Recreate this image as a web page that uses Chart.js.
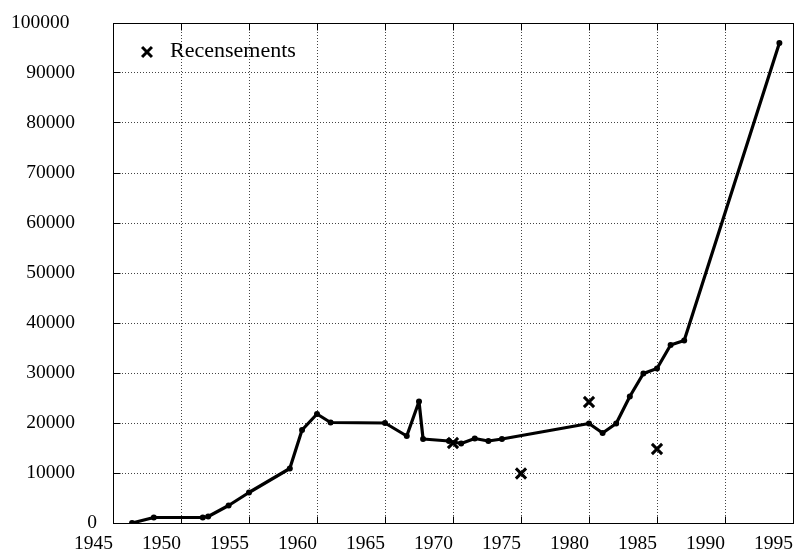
<!DOCTYPE html>
<html><head><meta charset="utf-8">
<script src="https://cdn.jsdelivr.net/npm/chart.js@4.4.1/dist/chart.umd.min.js"></script>
<style>html,body{margin:0;padding:0;background:#fff;}canvas{display:block;}</style>
</head><body>
<canvas id="c" width="794" height="552"></canvas>
<script>
// ---- data ----
const years = [1946.4, 1948.0, 1951.6, 1952.0, 1953.5, 1955.0, 1958.0, 1958.9, 1960.0, 1961.0,
               1965.0, 1966.6, 1967.5, 1967.8, 1969.7, 1970.6, 1971.6, 1972.6, 1973.6,
               1980.0, 1981.0, 1982.0, 1983.0, 1984.0, 1985.0, 1986.0, 1987.0, 1994.0];
const population = [0, 1100, 1100, 1300, 3500, 6100, 10900, 18600, 21800, 20100,
                    20000, 17400, 24300, 16800, 16400, 15900, 16900, 16400, 16800,
                    19900, 18000, 19900, 25300, 29900, 30900, 35600, 36500, 96000];
const censusYears = [1970, 1975, 1980, 1985];
const censusValues = [16000, 9900, 24200, 14800];
const censusLabel = 'Recensements';
const xTickValues = [1945, 1950, 1955, 1960, 1965, 1970, 1975, 1980, 1985, 1990, 1995];
const yTickValues = [0, 10000, 20000, 30000, 40000, 50000, 60000, 70000, 80000, 90000, 100000];

const FONT = 'Liberation Serif';

const framePlugin = {
  id: 'frame',
  beforeDatasetsDraw(chart) {
    const {ctx, chartArea: a, scales: {x, y}} = chart;
    const L = Math.floor(a.left) + 0.5, R = Math.floor(a.right) + 0.5;
    const T = Math.floor(a.top) + 0.5, B = Math.floor(a.bottom) + 0.5;
    const tl = 7;
    ctx.save();
    ctx.strokeStyle = '#000';
    ctx.lineWidth = 1;
    ctx.setLineDash([]);
    ctx.beginPath();
    xTickValues.forEach(v => {
      const px = Math.floor(x.getPixelForValue(v)) + 0.5;
      ctx.moveTo(px, B); ctx.lineTo(px, B - tl);
      ctx.moveTo(px, T); ctx.lineTo(px, T + tl);
    });
    yTickValues.forEach(v => {
      const py = Math.floor(y.getPixelForValue(v)) + 0.5;
      ctx.moveTo(L, py); ctx.lineTo(L + tl, py);
      ctx.moveTo(R, py); ctx.lineTo(R - tl, py);
    });
    ctx.stroke();
    ctx.strokeRect(L, T, R - L, B - T);
    ctx.restore();
  },
  afterDatasetsDraw(chart) {
    // legend for the census series, inside the plot at top-left
    const {ctx, chartArea: a} = chart;
    const ds = chart.data.datasets[1];
    const cx = a.left + 34, cy = a.top + 29;
    ctx.save();
    ctx.strokeStyle = ds.borderColor;
    ctx.fillStyle = ds.borderColor;
    ctx.lineWidth = ds.pointBorderWidth;
    ctx.setLineDash([]);
    if (Chart.helpers && Chart.helpers.drawPoint) {
      Chart.helpers.drawPoint(ctx, {pointStyle: ds.pointStyle, radius: 7, borderWidth: ds.pointBorderWidth, rotation: 0}, cx, cy);
    } else {
      const d = 5;
      ctx.beginPath();
      ctx.moveTo(cx - d, cy - d); ctx.lineTo(cx + d, cy + d);
      ctx.moveTo(cx + d, cy - d); ctx.lineTo(cx - d, cy + d);
      ctx.stroke();
    }
    ctx.font = '22px "' + FONT + '"';
    ctx.textAlign = 'left';
    ctx.textBaseline = 'middle';
    ctx.fillStyle = '#000';
    ctx.fillText(ds.label, a.left + 57, cy - 1);
    ctx.restore();
  }
};

new Chart(document.getElementById('c'), {
  type: 'line',
  data: {
    datasets: [
      {
        label: 'Population',
        data: years.map((t, i) => ({x: t, y: population[i]})),
        borderColor: '#000',
        backgroundColor: '#000',
        borderWidth: 3.2,
        borderJoinStyle: 'round',
        borderCapStyle: 'round',
        pointStyle: 'circle',
        pointRadius: 3,
        pointBorderWidth: 0,
        pointBackgroundColor: '#000',
        tension: 0,
        fill: false
      },
      {
        label: censusLabel,
        data: censusYears.map((t, i) => ({x: t, y: censusValues[i]})),
        showLine: false,
        borderColor: '#000',
        backgroundColor: '#000',
        borderWidth: 3,
        pointStyle: 'crossRot',
        pointRadius: 7.2,
        pointBorderWidth: 3
      }
    ]
  },
  options: {
    responsive: false,
    animation: false,
    events: [],
    layout: {autoPadding: false, padding: {top: 23, right: 1, left: 0, bottom: 0}},
    scales: {
      x: {
        type: 'linear',
        min: 1945, max: 1995,
        afterBuildTicks: s => { s.ticks = xTickValues.map(v => ({value: v})); },
        afterFit: s => { s.height = 29; },
        ticks: {
          align: 'end',
          padding: 0,
          color: '#000',
          font: {family: FONT, size: 19.5},
          callback: v => String(v),
          maxRotation: 0, autoSkip: false
        },
        grid: {color: '#444', lineWidth: 1, drawTicks: true, tickLength: 9, tickColor: 'rgba(0,0,0,0)'},
        border: {display: false, dash: [1, 2]}
      },
      y: {
        type: 'linear',
        min: 0, max: 100000,
        afterBuildTicks: s => { s.ticks = yTickValues.map(v => ({value: v})); },
        afterFit: s => { s.width = 113; },
        afterUpdate: s => {
          if (s._customLabels) return;
          s._customLabels = true;
          const orig = s.getLabelItems.bind(s);
          s.getLabelItems = function (ca) {
            const items = orig(ca);
            try {
              items.forEach(it => {
                const n = String(it.label).length;
                it.options.textAlign = 'left';
                it.options.translation[0] = s.right - 10.5 - n * 15.25;
              });
            } catch (e) {}
            return items;
          };
        },
        ticks: {
          padding: 0,
          color: '#000',
          font: {family: FONT, size: 19.5},
          callback: v => String(v),
          autoSkip: false
        },
        grid: {color: '#444', lineWidth: 1, drawTicks: false},
        border: {display: false, dash: [1, 2]}
      }
    },
    plugins: {
      legend: {display: false},
      tooltip: {enabled: false}
    }
  },
  plugins: [framePlugin]
});
</script>
</body></html>
